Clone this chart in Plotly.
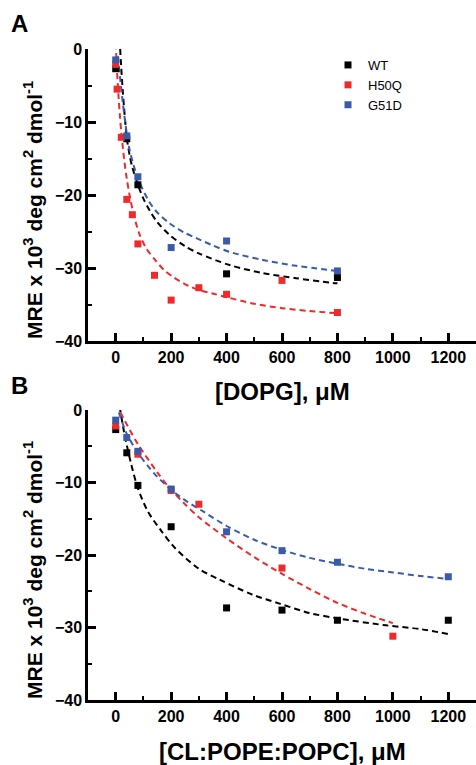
import plotly.graph_objects as go

# ---------------- data: panel A ([DOPG]) ----------------
wt_dopg_x = [0, 40, 80, 400, 800]
wt_dopg_y = [-2.7, -12.3, -18.6, -30.8, -31.3]
h50q_dopg_x = [0, 5, 20, 40, 60, 80, 140, 200, 300, 400, 600, 800]
h50q_dopg_y = [-2.1, -5.5, -12.1, -20.6, -22.7, -26.7, -31.0, -34.4, -32.7, -33.6, -31.7, -36.1]
g51d_dopg_x = [0, 40, 80, 200, 400, 800]
g51d_dopg_y = [-1.5, -11.9, -17.5, -27.2, -26.3, -30.4]

wt_dopg_fit_x = [16, 20, 25, 30, 40, 50, 60, 80, 100, 122, 150, 195, 250, 300, 411, 531, 651, 771, 800]
wt_dopg_fit_y = [0.0, -2.6, -5.5, -8.0, -12.2, -14.5, -16.2, -18.6, -20.5, -22.1, -23.7, -25.5, -27.0, -28.0, -29.6, -30.7, -31.4, -32.0, -32.1]
h50q_dopg_fit_x = [0, 5, 10, 15, 20, 30, 40, 50, 65, 85, 110, 140, 175, 210, 260, 300, 350, 400, 500, 600, 700, 800]
h50q_dopg_fit_y = [0.8, -3.2, -6.4, -9.1, -11.4, -15.0, -17.8, -20.0, -22.7, -25.3, -27.3, -28.8, -30.3, -31.3, -32.4, -33.0, -33.5, -34.0, -34.9, -35.5, -35.9, -36.2]
g51d_dopg_fit_x = [8, 15, 25, 40, 50, 65, 86, 122, 150, 195, 250, 291, 350, 411, 531, 651, 800]
g51d_dopg_fit_y = [-1.0, -3.6, -7.2, -11.6, -13.8, -16.0, -18.3, -21.0, -22.4, -23.9, -25.2, -25.9, -26.9, -27.8, -28.9, -29.7, -30.4]

# ---------------- data: panel B ([CL:POPE:POPC]) ----------------
wt_cl_x = [0, 40, 80, 200, 400, 600, 800, 1200]
wt_cl_y = [-2.7, -5.9, -10.4, -16.1, -27.3, -27.6, -29.0, -29.0]
h50q_cl_x = [0, 80, 200, 300, 600, 1000]
h50q_cl_y = [-2.2, -6.1, -11.1, -13.0, -21.8, -31.2]
g51d_cl_x = [0, 40, 80, 200, 400, 600, 800, 1200]
g51d_cl_y = [-1.4, -3.8, -5.7, -10.9, -16.8, -19.4, -21.0, -23.0]

wt_cl_fit_x = [14, 32, 56, 80, 116, 165, 213, 300, 375, 495, 591, 699, 795, 975, 1095, 1200]
wt_cl_fit_y = [0.5, -3.4, -7.5, -10.8, -14.0, -16.7, -19.0, -21.9, -23.4, -25.5, -26.7, -28.0, -28.7, -29.7, -30.2, -30.9]
h50q_cl_fit_x = [0, 40, 80, 150, 200, 250, 300, 400, 500, 600, 700, 800, 900, 1000]
h50q_cl_fit_y = [0.9, -2.0, -4.7, -8.6, -11.0, -13.0, -14.8, -17.7, -20.3, -22.6, -24.7, -26.6, -28.1, -29.4]
g51d_cl_fit_x = [0, 40, 80, 140, 200, 260, 320, 400, 500, 600, 700, 800, 900, 1000, 1100, 1200]
g51d_cl_fit_y = [1.0, -3.3, -5.9, -8.8, -11.0, -12.7, -14.1, -16.0, -17.9, -19.3, -20.4, -21.2, -21.9, -22.4, -22.9, -23.3]

x_tick_vals = [0, 200, 400, 600, 800, 1000, 1200]
y_tick_vals = [0, -10, -20, -30, -40]
series_names = ["WT", "H50Q", "G51D"]
series_colors = ["#000000", "#EE2A2A", "#3A5BAA"]

FONT = "Liberation Sans, Arial, Helvetica, sans-serif"
W, H = 476, 765

fig = go.Figure()

panels = [
    ("x", "y", [(wt_dopg_x, wt_dopg_y, wt_dopg_fit_x, wt_dopg_fit_y),
                (h50q_dopg_x, h50q_dopg_y, h50q_dopg_fit_x, h50q_dopg_fit_y),
                (g51d_dopg_x, g51d_dopg_y, g51d_dopg_fit_x, g51d_dopg_fit_y)], True),
    ("x2", "y2", [(wt_cl_x, wt_cl_y, wt_cl_fit_x, wt_cl_fit_y),
                  (h50q_cl_x, h50q_cl_y, h50q_cl_fit_x, h50q_cl_fit_y),
                  (g51d_cl_x, g51d_cl_y, g51d_cl_fit_x, g51d_cl_fit_y)], False),
]

for xa, ya, sets, show in panels:
    for (px, py, fx, fy), name, col in zip(sets, series_names, series_colors):
        fig.add_trace(go.Scatter(
            x=fx, y=fy, mode="lines", xaxis=xa, yaxis=ya,
            line=dict(color=col, width=2, dash="6px,4px", shape="spline", smoothing=0.8),
            showlegend=False, hoverinfo="skip", cliponaxis=False))
    for (px, py, fx, fy), name, col in zip(sets, series_names, series_colors):
        fig.add_trace(go.Scatter(
            x=px, y=py, mode="markers", name=name, xaxis=xa, yaxis=ya,
            marker=dict(symbol="square", size=7, color=col, line=dict(width=0)),
            showlegend=show, cliponaxis=False))

def px2paper_y(p):
    return 1 - p / H

x_dom = [88 / W, 1.0]
axis_common = dict(
    showgrid=False, zeroline=False, showline=True, linecolor="black", linewidth=2.5,
    ticks="inside", ticklen=8, tickwidth=2.5, tickcolor="black",
    tickfont=dict(family=FONT, size=16, color="black", weight="bold"),
)
xaxis_cfg = dict(axis_common, range=[-100, 1300], tickvals=x_tick_vals, domain=x_dom,
                 minor=dict(ticks="inside", ticklen=4, tickwidth=2, dtick=100, tick0=0, tickcolor="black"))
yaxis_cfg = dict(axis_common, range=[-40, 0], tickvals=y_tick_vals,
                 minor=dict(ticks="inside", ticklen=4, tickwidth=2, dtick=5, tick0=0, tickcolor="black"))

fig.update_layout(
    width=W, height=H, margin=dict(l=0, r=0, t=0, b=0, autoexpand=False),
    paper_bgcolor="white", plot_bgcolor="white",
    xaxis=dict(xaxis_cfg, anchor="y"),
    yaxis=dict(yaxis_cfg, anchor="x", domain=[px2paper_y(341), px2paper_y(49)]),
    xaxis2=dict(xaxis_cfg, anchor="y2"),
    yaxis2=dict(yaxis_cfg, anchor="x2", domain=[px2paper_y(700), px2paper_y(410)]),
    showlegend=True,
    legend=dict(x=328 / W, y=px2paper_y(50), xanchor="left", yanchor="top",
                font=dict(family=FONT, size=13, color="black"),
                bgcolor="rgba(0,0,0,0)", tracegroupgap=0, itemwidth=30),
)

ytitle = "MRE x 10<sup>3</sup> deg cm<sup>2</sup> dmol<sup>-1</sup>"
ann = []
for yc in (210, 570):
    ann.append(dict(text="<b>" + ytitle + "</b>", x=33 / W, y=px2paper_y(yc), xref="paper", yref="paper",
                    xanchor="center", yanchor="middle", textangle=-90, showarrow=False,
                    font=dict(family=FONT, size=21, color="black")))
ann.append(dict(text="<b>[DOPG], μM</b>", x=282 / W, y=px2paper_y(392), xref="paper", yref="paper",
                xanchor="center", yanchor="middle", showarrow=False,
                font=dict(family=FONT, size=24, color="black")))
ann.append(dict(text="<b>[CL:POPE:POPC], μM</b>", x=282 / W, y=px2paper_y(751), xref="paper", yref="paper",
                xanchor="center", yanchor="middle", showarrow=False,
                font=dict(family=FONT, size=24, color="black")))
ann.append(dict(text="<b>A</b>", x=19 / W, y=px2paper_y(23), xref="paper", yref="paper",
                xanchor="center", yanchor="middle", showarrow=False,
                font=dict(family=FONT, size=24, color="black")))
ann.append(dict(text="<b>B</b>", x=19 / W, y=px2paper_y(385), xref="paper", yref="paper",
                xanchor="center", yanchor="middle", showarrow=False,
                font=dict(family=FONT, size=24, color="black")))
fig.update_layout(annotations=ann)

fig.write_html("out.html", config={"displayModeBar": False},
               post_script="document.body.style.margin='0px';")
